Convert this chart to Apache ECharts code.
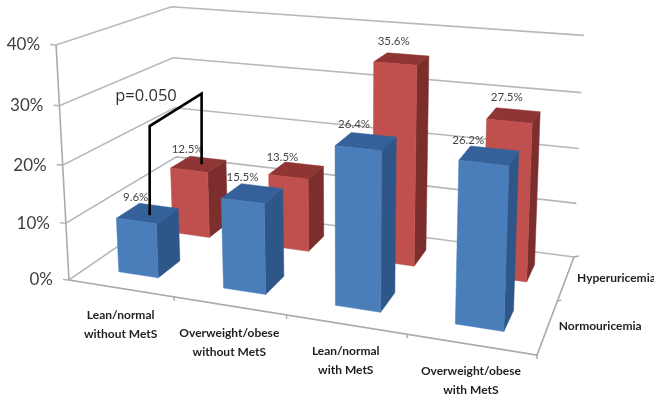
<!DOCTYPE html>
<html>
<head>
<meta charset="utf-8">
<style>html,body{margin:0;padding:0;background:#fff}#chart{width:654px;height:402px}</style>
<script src="https://cdn.jsdelivr.net/npm/echarts@6/dist/echarts.min.js"></script>
</head>
<body>
<div id="chart"></div>
<script>
// Prevalence by body-size / metabolic group
const categories = [['Lean/normal', 'without MetS'], ['Overweight/obese', 'without MetS'], ['Lean/normal', 'with MetS'], ['Overweight/obese', 'with MetS']];
const rowNames = ['Normouricemia', 'Hyperuricemia'];
const normouricemia = [9.6, 15.5, 26.4, 26.2];
const hyperuricemia = [12.5, 13.5, 35.6, 27.5];
const yTicks = [0, 10, 20, 30, 40];
const pLabel = 'p=0.050';
const bracketTops = [25, 26];

// Floor corners of the perspective box: front-left, front-right, back-right, back-left
const floorQuad = [[69, 280], [537, 355], [574, 257], [178, 205]];
// Where vertical edges converge, and how strongly height foreshortens
const verticalVanish = [348, 5350];
const heightPersp = -0.0443;
const rowDepth = [0.25, 0.75];
const depthHalf = 0.1;
const widthRatio = 0.385;
const labelShift = [[[-12, -16], [-10, -16], [-12, -17], [-21, -15]], [[-11, -15], [-14, -13], [-8, -18], [-7, -18]]];

const FONT = 'Lato, "Liberation Sans", sans-serif';
const GRID = '#b8b8b8';
const FACE = {
  blue: { front: '#4a7ebb', side: '#2f5688', top: '#34619a' },
  red: { front: '#c0504d', side: '#7b2e2c', top: '#8f3533' }
};

function quadMap(q) {
  const [x0, y0] = q[0], [x1, y1] = q[1], [x2, y2] = q[2], [x3, y3] = q[3];
  const dx1 = x1 - x2, dx2 = x3 - x2, sx = x0 - x1 + x2 - x3;
  const dy1 = y1 - y2, dy2 = y3 - y2, sy = y0 - y1 + y2 - y3;
  const den = dx1 * dy2 - dx2 * dy1;
  const g = (sx * dy2 - dx2 * sy) / den, h = (dx1 * sy - sx * dy1) / den;
  const a = x1 - x0 + g * x1, b = x3 - x0 + h * x3, d = y1 - y0 + g * y1, e = y3 - y0 + h * y3;
  return (u, v) => {
    const w = g * u + h * v + 1;
    return [(a * u + b * v + x0) / w, (d * u + e * v + y0) / w, w];
  };
}
const onFloor = quadMap(floorQuad);

// u across categories, v into the depth, t up the value range (all 0..1)
function project(u, v, t) {
  const f = onFloor(u, v);
  const s = heightPersp * t / (f[2] + heightPersp * t);
  return [f[0] + (verticalVanish[0] - f[0]) * s, f[1] + (verticalVanish[1] - f[1]) * s];
}

// Turns an axis coordinate into box fractions using the cartesian scales
function boxFrac(params, api, cat, val) {
  const cs = params.coordSys;
  const p = api.coord([cat, val]);
  return { u: (p[0] - cs.x) / cs.width, t: (cs.y + cs.height - p[1]) / cs.height, band: api.size([1, 0])[0] / cs.width };
}

const line = (points, stroke, lineWidth) => ({
  type: 'polyline', shape: { points }, style: { stroke, lineWidth, fill: null }
});
const text = (str, x, y, font, fill, align) => ({
  type: 'text',
  style: { text: str, x, y, font, fill, textAlign: align || 'center', textVerticalAlign: 'middle' }
});

function renderWall(params, api) {
  const f = boxFrac(params, api, 0, api.value(1));
  const a = project(0, 0, f.t), b = project(0, 1, f.t), c = project(1, 1, f.t);
  const kids = [line([[a[0] - 6, a[1] - 0.5], a, b, c], GRID, 1.6)];
  kids.push(text(yTicks[params.dataIndex] + '%', a[0] - 16, a[1], '17px ' + FONT, '#3f3f3f', 'right'));
  return { type: 'group', children: kids };
}

function renderFloor(params, api) {
  const i = params.dataIndex;
  const f = boxFrac(params, api, api.value(0), 0);
  const kids = [];
  if (i === 0) {
    kids.push(line([project(0, 0, 1), project(0, 0, 0), project(1, 0, 0), project(1, 1, 0), project(1, 1, 0).map((n, k) => n + [5, -1][k])], '#aaaaaa', 1.6));
    kids.push(line([project(1, 0.5, 0), project(1, 0.5, 0).map((n, k) => n + [4, -1][k])], '#aaaaaa', 1.4));
    kids.push(line([project(1, 0, 0), project(1, 0, 0).map((n, k) => n + [0, 4][k])], '#aaaaaa', 1.4));
  }
  const edge = project(f.u + f.band / 2, 0, 0);
  if (i < categories.length - 1) kids.push(line([edge, [edge[0], edge[1] + 4]], '#aaaaaa', 1.4));
  const mid = project(f.u, 0, 0);
  const cx = mid[0], cy = mid[1] + 36.5;
  kids.push(text(categories[i][0], cx, cy - 9.5, 'bold 12px ' + FONT, '#1f1f1f'));
  kids.push(text(categories[i][1], cx, cy + 9.5, 'bold 12px ' + FONT, '#1f1f1f'));
  return { type: 'group', children: kids };
}

function renderRowName(params, api) {
  const v = rowDepth[params.dataIndex];
  const p = project(1, v, 0);
  return text(rowNames[params.dataIndex], p[0] + 11, p[1], 'bold 12px ' + FONT, '#1f1f1f', 'left');
}

function barRenderer(row, colors) {
  return function (params, api) {
    const cat = api.value(0), val = api.value(1);
    const f = boxFrac(params, api, cat, val);
    const half = f.band * widthRatio / 2;
    const u0 = f.u - half, u1 = f.u + half;
    const v0 = rowDepth[row] - depthHalf, v1 = rowDepth[row] + depthHalf;
    const poly = (pts, fill) => ({ type: 'polygon', shape: { points: pts }, style: { fill, stroke: fill, lineWidth: 0.5 } });
    const topMid = project(f.u, rowDepth[row], f.t);
    const shift = labelShift[row][cat];
    return {
      type: 'group',
      children: [
        poly([project(u1, v0, 0), project(u1, v1, 0), project(u1, v1, f.t), project(u1, v0, f.t)], colors.side),
        poly([project(u0, v0, f.t), project(u1, v0, f.t), project(u1, v1, f.t), project(u0, v1, f.t)], colors.top),
        poly([project(u0, v0, 0), project(u1, v0, 0), project(u1, v0, f.t), project(u0, v0, f.t)], colors.front),
        text(val.toFixed(1) + '%', topMid[0] + shift[0], topMid[1] + shift[1], '11.5px ' + FONT, '#454545')
      ]
    };
  };
}

// Bracket from the first normouricemia bar to the first hyperuricemia bar
function renderBracket(params, api) {
  const a = boxFrac(params, api, 0, normouricemia[0]);
  const b = boxFrac(params, api, 0, hyperuricemia[0]);
  const aTop = boxFrac(params, api, 0, bracketTops[0]);
  const bTop = boxFrac(params, api, 0, bracketTops[1]);
  const p0 = project(a.u, rowDepth[0], a.t), p1 = project(a.u, rowDepth[0], aTop.t);
  const p2 = project(b.u, rowDepth[1], bTop.t), p3 = project(b.u, rowDepth[1], b.t);
  return {
    type: 'group',
    children: [
      line([[p0[0] + 2, p0[1] + 2], [p0[0] + 2, p1[1]], [p3[0] + 3, p2[1]], [p3[0] + 3, p3[1]]], '#000', 2.6),
      text(pLabel, 146, 96, '16.5px "Open Sans", "DejaVu Sans", sans-serif', '#333')
    ]
  };
}

const base = { type: 'custom', coordinateSystem: 'cartesian2d', silent: true, animation: false, clip: false };
const chart = echarts.init(document.getElementById('chart'), null, { renderer: 'canvas' });
chart.setOption({
  backgroundColor: '#ffffff',
  animation: false,
  grid: { left: 0, right: 0, top: 0, bottom: 0 },
  xAxis: { type: 'category', data: categories.map(c => c.join(' ')), show: false },
  yAxis: { type: 'value', min: 0, max: 40, interval: 10, show: false },
  series: [
    Object.assign({}, base, { name: 'walls', data: yTicks.map(t => [0, t]), renderItem: renderWall }),
    Object.assign({}, base, { name: 'floor', data: categories.map((c, i) => [i, 0]), renderItem: renderFloor }),
    Object.assign({}, base, { name: 'rows', data: rowNames.map(() => [0, 0]), renderItem: renderRowName }),
    Object.assign({}, base, { name: rowNames[1], data: hyperuricemia.map((v, i) => [i, v]), renderItem: barRenderer(1, FACE.red) }),
    Object.assign({}, base, { name: rowNames[0], data: normouricemia.map((v, i) => [i, v]), renderItem: barRenderer(0, FACE.blue) }),
    Object.assign({}, base, { name: 'significance', data: [[0, 0]], renderItem: renderBracket })
  ]
});
</script>
</body>
</html>
